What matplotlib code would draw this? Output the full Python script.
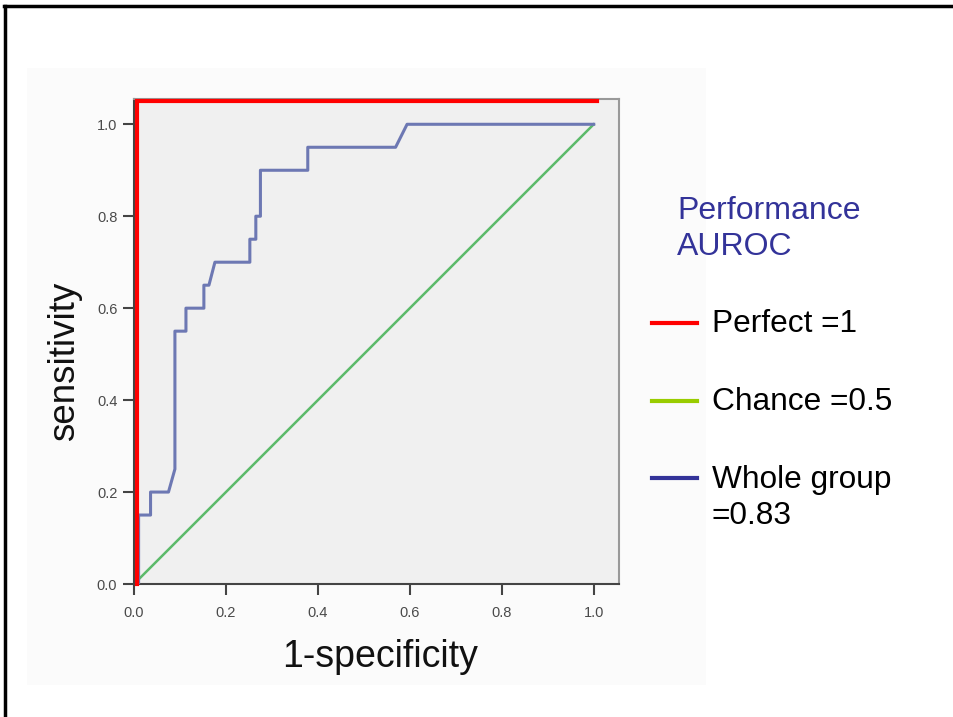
import matplotlib
matplotlib.use('Agg')
import matplotlib.pyplot as plt
from matplotlib.patches import Rectangle
from matplotlib.lines import Line2D

plt.rcParams['font.family'] = ['Liberation Sans', 'DejaVu Sans']

# ROC curve of the whole group
whole_fpr = [0.01, 0.01, 0.036, 0.036, 0.075, 0.089, 0.089, 0.113, 0.113, 0.152, 0.152,
             0.163, 0.176, 0.252, 0.252, 0.265, 0.265, 0.275, 0.275, 0.378, 0.378,
             0.569, 0.594, 1.0]
whole_tpr = [0.0, 0.15, 0.15, 0.2, 0.2, 0.25, 0.55, 0.55, 0.6, 0.6, 0.65,
             0.65, 0.7, 0.7, 0.75, 0.75, 0.8, 0.8, 0.9, 0.9, 0.95,
             0.95, 1.0, 1.0]

# chance diagonal
chance_x = [0.0, 1.0]
chance_y = [0.0, 1.0]

# "perfect" curve drawn along the left and top
perfect_x = [0.006, 0.006, 1.007]
perfect_y = [0.0, 1.05, 1.05]

ticks = [0.0, 0.2, 0.4, 0.6, 0.8, 1.0]
tick_labels = ['0.0', '0.2', '0.4', '0.6', '0.8', '1.0']

legend_labels = ['Perfect =1', 'Chance =0.5', 'Whole group\n=0.83']
legend_colors = ['#ff0000', '#99cc00', '#333399']

fig = plt.figure(figsize=(9.54, 7.17), dpi=100)

# faint backdrop of the pasted chart and the slide border
fig.add_artist(Rectangle((27 / 954, 1 - 685 / 717), (706 - 27) / 954, (685 - 68) / 717,
                         transform=fig.transFigure, facecolor='#fbfbfb',
                         edgecolor='none', zorder=-10))
fig.add_artist(Line2D([5.5 / 954, 5.5 / 954], [0, 1 - 5.5 / 717], transform=fig.transFigure,
                      color='black', lw=2.5))
fig.add_artist(Line2D([4 / 954, 1], [1 - 5.5 / 717, 1 - 5.5 / 717], transform=fig.transFigure,
                      color='black', lw=2.5))

ax = fig.add_axes([134 / 954, 1 - 584 / 717, (619 - 134) / 954, (584 - 99) / 717])
ax.set_zorder(1)
ax.set_facecolor('#f0f0f0')

ax.plot(chance_x, chance_y, color='#5cba6a', lw=1.8, zorder=2)
ax.plot(whole_fpr, whole_tpr, color='#6d78b3', lw=2.2, zorder=3)
ax.plot(perfect_x, perfect_y, color='#ff0000', lw=3, zorder=4, clip_on=False,
        solid_joinstyle='miter')

ax.set_xlim(0, 1.055)
ax.set_ylim(0, 1.055)
ax.set_xticks(ticks)
ax.set_xticklabels(tick_labels)
ax.set_yticks(ticks)
ax.set_yticklabels(tick_labels)
ax.tick_params(direction='out', length=8, width=1.5, color='#444444',
               labelsize=10.5, labelcolor='#4a4a4a')
ax.tick_params(axis='y', pad=4)
ax.tick_params(axis='x', pad=8)

for side in ['left', 'bottom']:
    ax.spines[side].set_color('#444444')
    ax.spines[side].set_linewidth(1.5)
for side in ['top', 'right']:
    ax.spines[side].set_color('#999999')
    ax.spines[side].set_linewidth(1.5)

ax.set_xlabel('1-specificity', fontsize=27, color='#111111', va='center')
ax.set_ylabel('sensitivity', fontsize=26.5, color='#111111', va='center')
ax.xaxis.set_label_coords(0.507, -0.15)
ax.yaxis.set_label_coords(-0.144, 0.46)

# hand-made legend on the right
fig.text(677 / 954, 1 - 229 / 717, 'Performance\nAUROC', fontsize=23, color='#333399',
         va='center', ha='left', linespacing=1.3)

legend_y = [323, 401, 478]
text_y = [324, 402, 498]
for lab, col, yy, ty in zip(legend_labels, legend_colors, legend_y, text_y):
    fig.add_artist(Line2D([652 / 954, 697 / 954], [1 - yy / 717, 1 - yy / 717],
                          transform=fig.transFigure, color=col, lw=3))
    fig.text(712 / 954, 1 - ty / 717, lab, fontsize=22.8, color='black',
             va='center', ha='left', linespacing=1.3)

fig.savefig('out.png', dpi=100)
